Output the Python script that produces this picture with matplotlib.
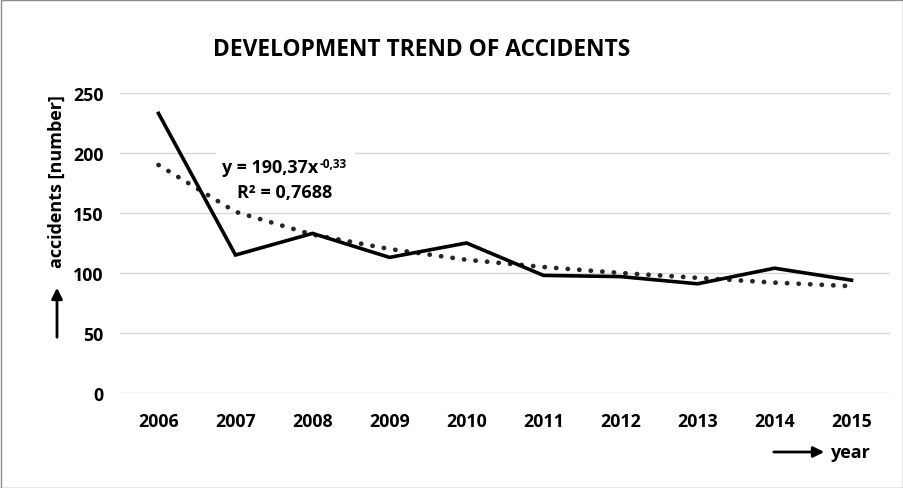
import matplotlib
matplotlib.use("Agg")
import matplotlib.pyplot as plt
from matplotlib.patches import Rectangle
from matplotlib import font_manager as fm

years = ["2006", "2007", "2008", "2009", "2010", "2011", "2012", "2013", "2014", "2015"]
accidents = [233, 115, 133, 113, 125, 98, 97, 91, 104, 94]
trend = [190, 151, 132, 120, 111, 105, 100, 96, 92, 89]
yticks = [0, 50, 100, 150, 200, 250]
title = "DEVELOPMENT TREND OF ACCIDENTS"
eq_main = "y = 190,37x"
eq_exp = "-0,33"
r2_text = "R² = 0,7688"

# pick a family with a real bold face
fam = 'DejaVu Sans'
for f in ['Open Sans', 'Noto Sans', 'Lato', 'Liberation Sans', 'DejaVu Sans']:
    try:
        p = fm.findfont(fm.FontProperties(family=f, weight='bold'), fallback_to_default=False)
        if 'bold' in p.lower():
            fam = f
            break
    except Exception:
        pass
plt.rcParams['font.family'] = [fam, 'DejaVu Sans']
plt.rcParams['font.weight'] = 'bold'

W, H = 904, 489
fig = plt.figure(figsize=(W / 100, H / 100), dpi=100)
renderer = fig.canvas.get_renderer()


def fx(px):
    return px / W


def fy(py):
    return 1 - py / H


def fit(t, target_w, horizontal=True):
    fig.canvas.draw()
    bb = t.get_window_extent(renderer=renderer)
    w = bb.width if horizontal else bb.height
    t.set_fontsize(t.get_fontsize() * target_w / w)
    return t


fig.patches.append(Rectangle((0.5 / W, 0.5 / H), 1 - 1.5 / W, 1 - 1.5 / H, transform=fig.transFigure,
                             fill=False, edgecolor='#8c8c8c', lw=1))

ax = fig.add_axes([fx(120), fy(394), 770 / W, 300 / H])
x = list(range(len(years)))
ax.plot(x, trend, color='#262626', lw=3.4, linestyle=(0, (0.05, 2.4)), dash_capstyle='round', zorder=2)
ax.plot(x, accidents, color='black', lw=2.6, solid_joinstyle='miter', zorder=3)

ax.set_xlim(-0.5, len(years) - 0.5)
ax.set_ylim(0, 250)
ax.set_yticks(yticks)
ax.set_xticks(x)
ax.set_xticklabels(years)
for s in ax.spines.values():
    s.set_visible(False)
ax.grid(axis='y', color='#d9d9d9', lw=1)
ax.set_axisbelow(True)
ax.tick_params(length=0, labelsize=12)
ax.tick_params(axis='x', pad=14)
ax.tick_params(axis='y', pad=12)
for lab in ax.get_xticklabels() + ax.get_yticklabels():
    lab.set_fontweight('bold')
fig.canvas.draw()
w250 = ax.get_yticklabels()[-1].get_window_extent(renderer=renderer).width
ts = 12 * 30 / w250
ax.tick_params(labelsize=ts)

# white box behind equation (covers gridline)
ax.add_patch(Rectangle(((216 - 120) / 770, (394 - 205) / 300), (355 - 216) / 770, 57 / 300,
                       transform=ax.transAxes, facecolor='white', edgecolor='none', zorder=1))

t = fig.text(fx(422), fy(50), title, ha='center', va='center', fontsize=17, fontweight='bold')
fit(t, 419)

yl = fig.text(fx(57), fy(182), "accidents [number]", rotation=90, ha='center', va='center',
              fontsize=12, fontweight='bold')
fit(yl, 173, horizontal=False)

ax.annotate('', xy=(fx(57), fy(286)), xytext=(fx(57), fy(341)), xycoords='figure fraction',
            textcoords='figure fraction',
            arrowprops=dict(arrowstyle='-|>', color='black', lw=2, mutation_scale=16))
ax.annotate('', xy=(fx(827), fy(453)), xytext=(fx(771), fy(453)), xycoords='figure fraction',
            textcoords='figure fraction',
            arrowprops=dict(arrowstyle='-|>', color='black', lw=2, mutation_scale=16))
yr = fig.text(fx(831), fy(453), "year", ha='left', va='center', fontsize=12, fontweight='bold')
fit(yr, 40)

e1 = fig.text(fx(222), fy(173), eq_main, ha='left', va='baseline', fontsize=11, fontweight='bold', zorder=5)
fit(e1, 96)
fig.canvas.draw()
e1bb = e1.get_window_extent(renderer=renderer)
e2 = fig.text(e1bb.x1 / W + fx(1), fy(168), eq_exp, ha='left', va='baseline',
              fontsize=e1.get_fontsize() * 0.66, fontweight='bold', zorder=5)
r2 = fig.text(fx(237), fy(198), r2_text, ha='left', va='baseline', fontsize=11, fontweight='bold', zorder=5)
fit(r2, 95)

fig.savefig("out.png", dpi=100)
